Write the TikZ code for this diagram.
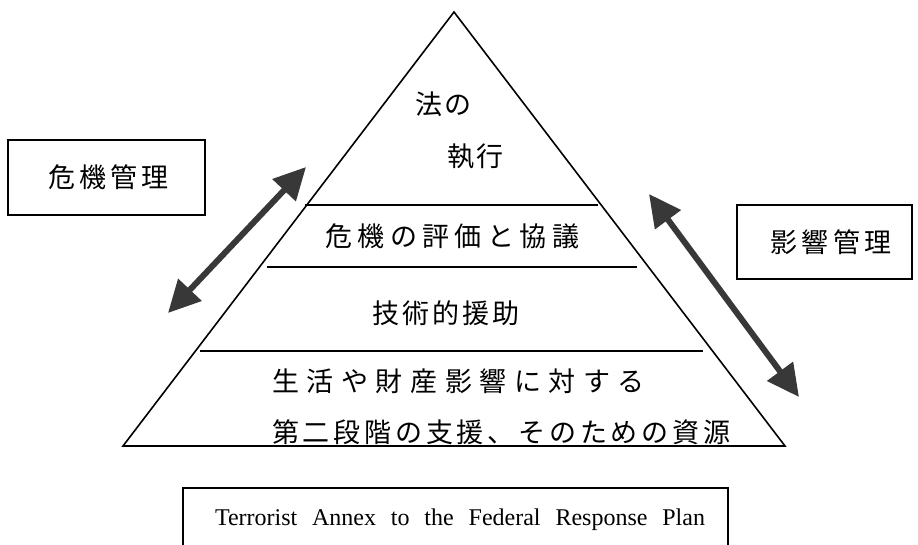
\documentclass[tikz,border=0pt]{standalone}
\usepackage{fontspec}
\setmainfont{Liberation Serif}
\newfontfamily\jp{Noto Sans CJK JP}
\usetikzlibrary{arrows.meta}
\newcommand{\jpls}[1]{\addfontfeature{LetterSpace=#1}}
\begin{document}
\begin{tikzpicture}[x=1pt,y=-1pt,
  edge/.style={line width=1.6pt},
  sepline/.style={line width=1.4pt},
  boxline/.style={line width=1.2pt},
  jt/.style={font=\jp\fontsize{27}{30}\selectfont, inner sep=0pt, anchor=west},
  dbl/.style={line width=6pt, draw=black!78,
    {Triangle[length=32pt,width=31pt]}-{Triangle[length=32pt,width=31pt]}}
]
\useasboundingbox (0,0) rectangle (918,545);
% triangle
\coordinate (apex) at (454,12);
\coordinate (bl) at (123,446);
\coordinate (br) at (785,446);
\draw[edge, line join=miter] (apex) -- (br) -- (bl) -- cycle;
% separator lines
\coordinate (s1a) at (305,205); \coordinate (s1b) at (598,205);
\coordinate (s2a) at (267,267); \coordinate (s2b) at (637,267);
\coordinate (s3a) at (200,351); \coordinate (s3b) at (703,351);
\draw[sepline] (s1a) -- (s1b);
\draw[sepline] (s2a) -- (s2b);
\draw[sepline] (s3a) -- (s3b);
% texts in pyramid
\node[jt] (t1) at (415,104) {\jpls{8}法の};
\node[jt] (t2) at (447,156) {\jpls{8}執行};
\node[jt] (t3) at (325,236) {\jpls{20}危機の評価と協議};
\node[jt] (t4) at (372,313) {\jpls{11}技術的援助};
\node[jt] (t5) at (272,381) {\jpls{28}生活や財産影響に対する};
\node[jt] (t6) at (272,432) {\jpls{14}第二段階の支援、そのための資源};
% side boxes
\draw[boxline] (8,140) rectangle (205,215);
\draw[boxline] (737,205) rectangle (912,279);
\node[jt] (crisis) at (48,177.5) {\jpls{15}危機管理};
\node[jt] (conseq) at (770,242) {\jpls{17}影響管理};
% arrows
\coordinate (la1) at (168,313); \coordinate (la2) at (306,167);
\coordinate (ra1) at (649,194); \coordinate (ra2) at (799,397);
\draw[dbl] (la1) -- (la2);
\draw[dbl] (ra1) -- (ra2);
% bottom box (open at the bottom)
\coordinate (b1) at (183,548); \coordinate (b2) at (183,488);
\coordinate (b3) at (728,488); \coordinate (b4) at (728,548);
\draw[boxline] (b1) -- (b2) -- (b3) -- (b4);
\node[font=\fontsize{24}{28}\selectfont, inner sep=0pt] (annex) at (460,520)
  {\makebox[490pt][s]{Terrorist Annex to the Federal Response Plan}};
\end{tikzpicture}
\end{document}
